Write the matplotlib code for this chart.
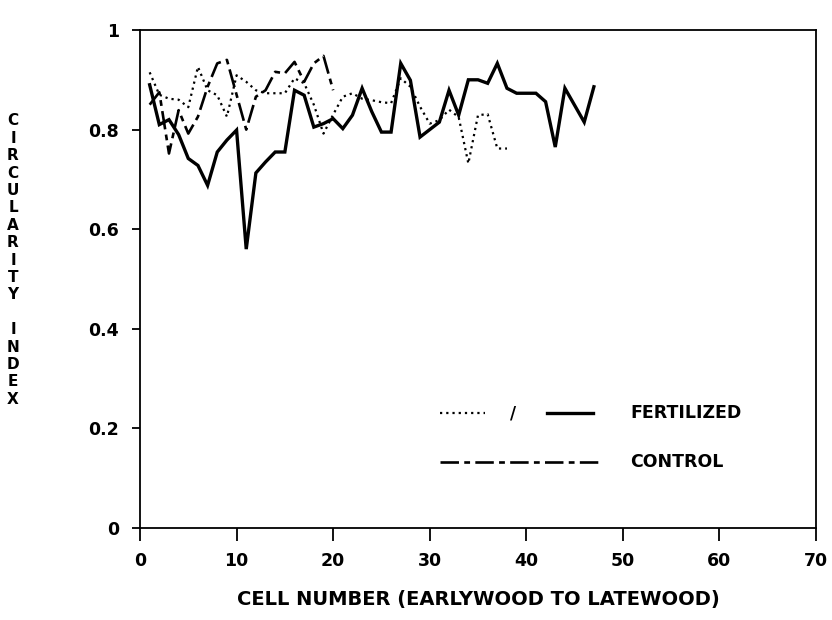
import matplotlib
matplotlib.use("Agg")
import matplotlib.pyplot as plt

# ---- data ----
fert_solid_cells = list(range(1, 48))
fert_solid = [0.89, 0.81, 0.82, 0.79, 0.742, 0.728, 0.688, 0.755, 0.779, 0.799,
              0.56, 0.713, 0.735, 0.755, 0.755, 0.879, 0.869, 0.805, 0.812, 0.822,
              0.802, 0.829, 0.883, 0.836, 0.795, 0.795, 0.933, 0.899, 0.785, 0.80,
              0.815, 0.879, 0.829, 0.90, 0.90, 0.893, 0.933, 0.883, 0.873, 0.873,
              0.873, 0.856, 0.765, 0.883, 0.849, 0.815, 0.886]

fert_dotted_cells = list(range(1, 39))
fert_dotted = [0.915, 0.87, 0.862, 0.86, 0.845, 0.926, 0.879, 0.869, 0.826, 0.909,
               0.896, 0.879, 0.873, 0.873, 0.873, 0.903, 0.893, 0.85, 0.792, 0.83,
               0.866, 0.873, 0.862, 0.859, 0.855, 0.853, 0.903, 0.886, 0.846, 0.812,
               0.819, 0.84, 0.825, 0.732, 0.829, 0.831, 0.762, 0.762]

control_cells = list(range(1, 21))
control = [0.85, 0.875, 0.752, 0.839, 0.792, 0.826, 0.886, 0.933, 0.94, 0.87,
           0.80, 0.866, 0.879, 0.916, 0.913, 0.936, 0.896, 0.933, 0.948, 0.879]

x_ticks = [0, 10, 20, 30, 40, 50, 60, 70]
y_ticks = [0, 0.2, 0.4, 0.6, 0.8, 1.0]
y_tick_labels = ["0", "0.2", "0.4", "0.6", "0.8", "1"]

x_label = "CELL NUMBER (EARLYWOOD TO LATEWOOD)"
y_label = "CIRCULARITY INDEX"
legend_fert = "FERTILIZED"
legend_ctrl = "CONTROL"

plt.rcParams['font.family'] = ['DejaVu Sans']
plt.rcParams['font.weight'] = 'bold'

fig = plt.figure(figsize=(8.32, 6.2), dpi=100)
ax = fig.add_axes([140/832, 1 - 528/620, (816 - 140)/832, (528 - 30)/620])

solid_style = dict(color='black', lw=2.4, solid_joinstyle='miter')
dot_style = dict(color='black', lw=1.6, linestyle=(0, (1, 1.8)))
ctrl_style = dict(color='black', lw=1.9, linestyle=(0, (7, 2, 2.2, 2)))

ax.plot(fert_dotted_cells, fert_dotted, **dot_style)
ax.plot(control_cells, control, **ctrl_style)
ax.plot(fert_solid_cells, fert_solid, **solid_style)

ax.set_xlim(0, 70)
ax.set_ylim(0, 1)
ax.set_xticks(x_ticks)
ax.set_xticklabels([str(t) for t in x_ticks])
ax.set_yticks(y_ticks)
ax.set_yticklabels(y_tick_labels)

for s in ax.spines.values():
    s.set_linewidth(1.3)
ax.tick_params(axis='x', direction='out', length=9, width=1.3, pad=8, labelsize=12.5)
ax.tick_params(axis='y', direction='out', length=6, width=1.3, pad=9, labelsize=12.5)
for lab in ax.get_xticklabels() + ax.get_yticklabels():
    lab.set_fontweight('bold')

# legend drawn manually (axes-fraction coordinates)
ly1 = (528 - 413) / 498
ly2 = (528 - 462) / 498
def fx(px):
    return (px - 140) / 676

ax.plot([fx(440), fx(485)], [ly1, ly1], transform=ax.transAxes, **dot_style)
ax.text(fx(513), ly1, "/", transform=ax.transAxes, ha='center', va='center',
        fontsize=12, fontweight='bold')
ax.plot([fx(547), fx(593)], [ly1, ly1], transform=ax.transAxes, **solid_style)
ax.text(fx(630), ly1, legend_fert, transform=ax.transAxes, ha='left', va='center',
        fontsize=12.5, fontweight='bold')
ax.plot([fx(440), fx(600)], [ly2, ly2], transform=ax.transAxes, **ctrl_style)
ax.text(fx(630), ly2, legend_ctrl, transform=ax.transAxes, ha='left', va='center',
        fontsize=12.5, fontweight='bold')

# axis labels
fig.text(0.5 * (140 + 816) / 832, 1 - 600/620, x_label, ha='center', va='center',
         fontsize=14, fontweight='bold')
stacked = "\n".join(list(y_label))
fig.text(13/832, 1 - 260/620, stacked, ha='center', va='center',
         fontsize=11, fontweight='bold', linespacing=1.2)

fig.savefig("out.png", dpi=100)
